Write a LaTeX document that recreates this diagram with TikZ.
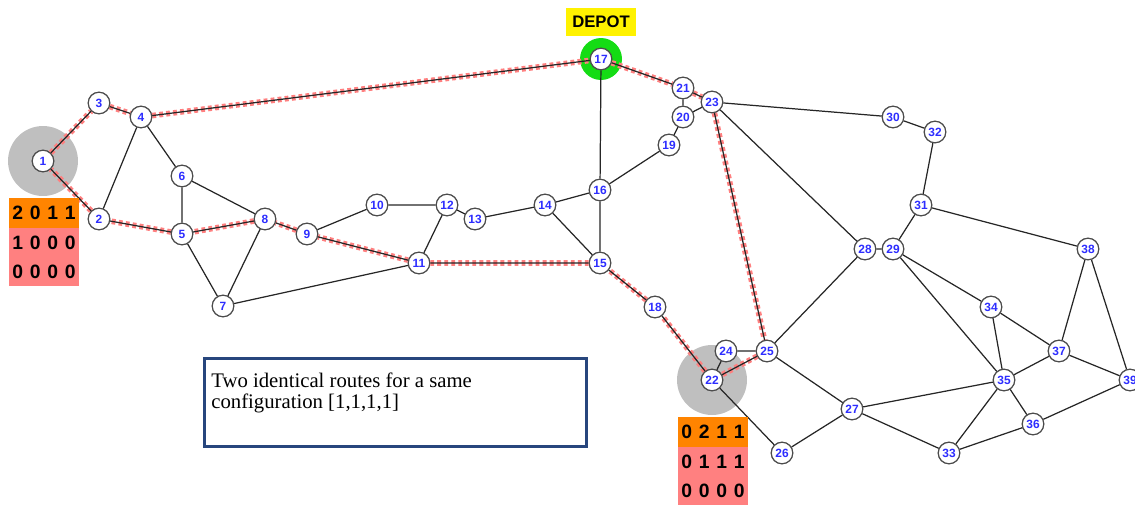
\documentclass[tikz,border=0pt]{standalone}
\usepackage{fontspec}
\setmainfont{Liberation Sans}
\newfontfamily\notefont{Liberation Serif}
\definecolor{labelblue}{RGB}{45,45,255}
\definecolor{cellorange}{RGB}{255,132,0}
\definecolor{cellpink}{RGB}{255,128,128}
\definecolor{depotgreen}{RGB}{20,220,20}
\definecolor{noteblue}{RGB}{40,70,125}
\newcommand{\cells}[4]{\makebox[0.35cm]{#1}\makebox[0.35cm]{#2}\makebox[0.35cm]{#3}\makebox[0.35cm]{#4}}

\begin{document}
\begin{tikzpicture}[x=0.02cm, y=-0.02cm,
    vertex/.style={circle, draw=black!70, fill=white, line width=0.65pt, inner sep=0pt, minimum size=0.43cm,
      text=labelblue, font=\fontsize{6.8}{7}\selectfont\bfseries},
    road/.style={draw=black!85, line width=0.7pt},
    route/.style={draw=red!50, line width=3.2pt, dash pattern=on 2.2pt off 1.8pt},
    zone/.style={circle, fill=gray!50, inner sep=0pt, minimum size=1.4cm},
    cellrow/.style={rectangle, inner sep=0pt, minimum width=1.4cm, minimum height=0.59cm,
      font=\fontsize{11}{12}\selectfont\bfseries}]
        \useasboundingbox (0,0) rectangle (1135,504);

        \node[zone] (zone1) at (43,161) {};
        \node[zone] (zone22) at (712,380) {};
        \node[circle, fill=depotgreen, inner sep=0pt, minimum size=0.84cm] (ring) at (601,59) {};

        \node[vertex] (1) at (43,161) {};
        \node[vertex] (2) at (99,219) {};
        \node[vertex] (3) at (99,103) {};
        \node[vertex] (4) at (141,117) {};
        \node[vertex] (5) at (182,234) {};
        \node[vertex] (6) at (182,176) {};
        \node[vertex] (7) at (223,306) {};
        \node[vertex] (8) at (265,219) {};
        \node[vertex] (9) at (307,234) {};
        \node[vertex] (10) at (377,205) {};
        \node[vertex] (11) at (419,263) {};
        \node[vertex] (12) at (447,205) {};
        \node[vertex] (13) at (475,219) {};
        \node[vertex] (14) at (545,205) {};
        \node[vertex] (15) at (600,263) {};
        \node[vertex] (16) at (600,190) {};
        \node[vertex] (17) at (601,59) {};
        \node[vertex] (18) at (655,307) {};
        \node[vertex] (19) at (669,145) {};
        \node[vertex] (20) at (683,117) {};
        \node[vertex] (21) at (683,88) {};
        \node[vertex] (22) at (712,380) {};
        \node[vertex] (23) at (712,102) {};
        \node[vertex] (24) at (726,351) {};
        \node[vertex] (25) at (767,351) {};
        \node[vertex] (26) at (782,453) {};
        \node[vertex] (27) at (852,409) {};
        \node[vertex] (28) at (865,249) {};
        \node[vertex] (29) at (893,249) {};
        \node[vertex] (30) at (893,117) {};
        \node[vertex] (31) at (921,205) {};
        \node[vertex] (32) at (935,132) {};
        \node[vertex] (33) at (949,453) {};
        \node[vertex] (34) at (991,307) {};
        \node[vertex] (35) at (1004,380) {};
        \node[vertex] (36) at (1033,424) {};
        \node[vertex] (37) at (1059,351) {};
        \node[vertex] (38) at (1088,249) {};
        \node[vertex] (39) at (1130,380) {};

        % the route, drawn under the roads
        \draw[route] (1) -- (3) -- (4) -- (17) -- (21) -- (23) -- (25) -- (22) -- (18) -- (15) -- (11) -- (9) -- (8) -- (5) -- (2) -- (1);

        \draw[road] (1) -- (3) -- (4) -- (17) -- (21) -- (23) -- (25) -- (22) -- (18) -- (15) -- (11) -- (9) -- (8) -- (5) -- (2) -- (1);
        \draw[road] (2) -- (4) -- (6) -- (5) -- (7) -- (8) -- (6);
        \draw[road] (9) -- (10) -- (12) -- (13) -- (14) -- (16) -- (17);
        \draw[road] (12) -- (11) -- (7);
        \draw[road] (14) -- (15) -- (16) -- (19) -- (20) -- (21);
        \draw[road] (20) -- (23) -- (30) -- (32) -- (31) -- (29) -- (28) -- (23);
        \draw[road] (22) -- (24) -- (25) -- (28);
        \draw[road] (22) -- (26) -- (27) -- (25);
        \draw[road] (27) -- (35) -- (29) -- (34) -- (35) -- (37) -- (34);
        \draw[road] (31) -- (38) -- (37) -- (39) -- (38);
        \draw[road] (27) -- (33) -- (35) -- (36) -- (33);
        \draw[road] (36) -- (39);

        % numbers on top
        \foreach \v in {1,...,39}
          \node[vertex] at (\v) {\v};

        \node[fill=yellow, inner sep=0pt, minimum width=1.4cm, minimum height=0.58cm,
          font=\fontsize{9.5}{10}\selectfont\bfseries] (depot) at (601,22) {DEPOT};

        % tables
        \node[cellrow, fill=cellorange] (leftA) at (44,213) {\cells{2}{0}{1}{1}};
        \node[cellrow, fill=cellpink] (leftB) at (44,242.5) {\cells{1}{0}{0}{0}};
        \node[cellrow, fill=cellpink] (leftC) at (44,271.5) {\cells{0}{0}{0}{0}};
        \node[cellrow, fill=cellorange] (rightA) at (713,432) {\cells{0}{2}{1}{1}};
        \node[cellrow, fill=cellpink] (rightB) at (713,461.5) {\cells{0}{1}{1}{1}};
        \node[cellrow, fill=cellpink] (rightC) at (713,490.5) {\cells{0}{0}{0}{0}};

        \node[draw=noteblue, line width=1.2pt, minimum width=7.64cm, minimum height=1.76cm, inner sep=0pt] (note) at (395.5,402.5) {};
        \node[anchor=north west, inner sep=0pt, align=left, font=\notefont\fontsize{11.8}{11.7}\selectfont] (notetext) at (211,373)
          {Two identical routes for a same\\configuration [1,1,1,1]};
      \end{tikzpicture}
\end{document}
